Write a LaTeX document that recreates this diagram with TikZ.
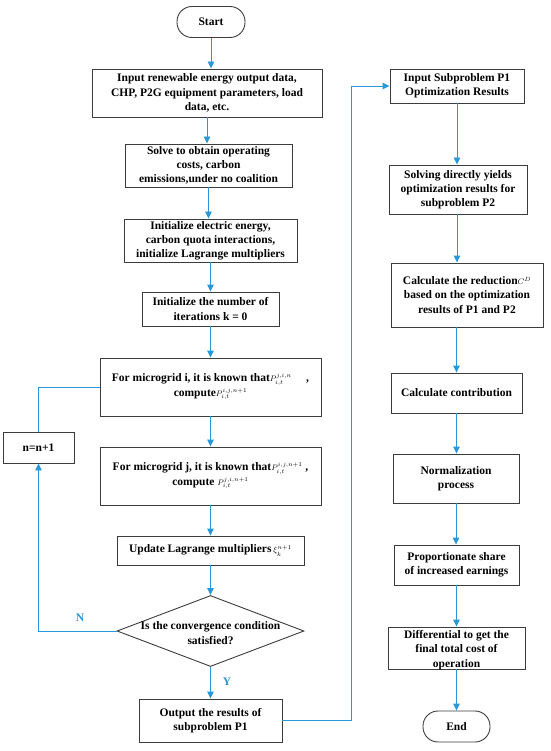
\documentclass[tikz,border=0pt]{standalone}
\usepackage{fontspec}
\setmainfont{Liberation Serif}
\usetikzlibrary{shapes.geometric,arrows.meta,calc}
\definecolor{lineblue}{RGB}{41,152,216}
\definecolor{boxgray}{RGB}{60,60,60}
\newcommand{\sm}[1]{{\fontsize{8}{8}\selectfont\mdseries$#1$}}
\begin{document}
\begin{tikzpicture}[x=1pt,y=-1pt,
  box/.style={draw=boxgray,line width=0.9pt,inner sep=0pt,align=center,
    font=\fontsize{11.5}{14.2}\bfseries\selectfont},
  term/.style={box,rounded corners=15pt},
  arr/.style={draw=lineblue,line width=0.9pt,-{Triangle[length=7pt,width=6.5pt]}},
  ln/.style={draw=lineblue,line width=0.9pt},
  lbl/.style={text=lineblue,font=\fontsize{11.5}{14}\bfseries\selectfont},
  txt/.style={align=center,inner sep=0pt,font=\fontsize{11.5}{14.2}\bfseries\selectfont}]
\fill[white] (0,0) rectangle (550,751);
\useasboundingbox (0,0) rectangle (550,751);
% left column
\node[term,minimum width=68pt,minimum height=31pt] (start) at (211,22) {Start};
\node[box,minimum width=230pt,minimum height=48pt] (input) at (207,93)
  {Input renewable energy output data,\\CHP, P2G equipment parameters, load\\data, etc.};
\node[box,minimum width=167pt,minimum height=43pt] (solve) at (208.5,165.5)
  {Solve to obtain operating\\costs, carbon\\emissions,under no coalition};
\node[box,minimum width=173pt,minimum height=43pt] (initE) at (210.5,240.5)
  {Initialize electric energy,\\carbon quota interactions,\\initialize Lagrange multipliers};
\node[box,minimum width=137pt,minimum height=34pt] (initK) at (210.5,309)
  {Initialize the number of\\iterations k = 0};
\node[box,minimum width=221pt,minimum height=58pt] (boxI) at (210.5,387)
  {For microgrid i, it is known that\sm{P^{j,i,n}_{i,t}}\quad\ ,\\compute\sm{P^{i,j,n+1}_{i,t}}};
\node[box,minimum width=71pt,minimum height=31pt] (nbox) at (38.5,447.5) {n=n+1};
\node[box,minimum width=221pt,minimum height=58pt] (boxJ) at (210.5,476)
  {For microgrid j, it is known that\sm{P^{i,j,n+1}_{i,t}}\ ,\\compute \sm{P^{j,i,n+1}_{i,t}}};
\node[box,minimum width=187pt,minimum height=29pt] (update) at (210.5,550.5)
  {Update Lagrange multipliers\,\sm{\xi^{n+1}_{k}}};
\node[draw=boxgray,line width=0.9pt,diamond,inner sep=0pt,minimum width=187pt,minimum height=71pt] (dec) at (210.5,631) {};
\node[txt] (dectxt) at (210.5,633) {Is the convergence condition\\satisfied?};
\node[box,minimum width=143pt,minimum height=43pt] (output) at (210.5,720.5)
  {Output the results of\\subproblem P1};
% right column
\node[box,minimum width=134pt,minimum height=34pt] (P1in) at (457,86)
  {Input Subproblem P1\\Optimization Results};
\node[box,minimum width=138pt,minimum height=49pt] (solving) at (458,189.5)
  {Solving directly yields\\optimization results for\\subproblem P2};
\node[box,minimum width=152pt,minimum height=64pt] (reduction) at (467,295)
  {Calculate the reduction\sm{C^{D}}\\based on the optimization\\results of P1 and P2};
\node[box,minimum width=131pt,minimum height=40pt] (contrib) at (456.5,393)
  {Calculate contribution};
\node[box,minimum width=126pt,minimum height=49pt] (norm) at (456,478.5)
  {Normalization\\process};
\node[box,minimum width=125pt,minimum height=40pt] (prop) at (456.5,565)
  {Proportionate share\\of increased earnings};
\node[box,minimum width=137pt,minimum height=42pt] (diff) at (456.5,648) {};
\node[txt] (difftxt) at (456.5,650) {Differential to get the\\final total cost of\\operation};
\node[term,minimum width=67pt,minimum height=31pt] (end) at (456.5,726.5) {End};
\coordinate (cr) at (351,0);
% connectors left
\draw[arr] (start.south) -- (start.south |- input.north);
\draw[arr] (input.south) -- (input.south |- solve.north);
\draw[arr] (solve.south) -- (solve.south |- initE.north);
\draw[arr] (initE.south) -- (initE.south |- initK.north);
\draw[arr] (initK.south) -- (initK.south |- boxI.north);
\draw[arr] (boxI.south) -- (boxI.south |- boxJ.north);
\draw[arr] (boxJ.south) -- (boxJ.south |- update.north);
\draw[arr] (update.south) -- (update.south |- dec.north);
\draw[arr] (dec.south) -- (dec.south |- output.north);
\draw[ln] (boxI.west) -| (nbox.north);
\draw[arr] (dec.west) -| (nbox.south);
\draw[arr] (output.east) -| (cr |- P1in.west) -- (P1in.west);
% connectors right
\draw[arr] (P1in.south) -- (P1in.south |- solving.north);
\draw[arr] (P1in.south |- solving.south) -- (P1in.south |- reduction.north);
\draw[arr] (contrib.north |- reduction.south) -- (contrib.north);
\draw[arr] (contrib.south) -- (contrib.south |- norm.north);
\draw[arr] (norm.south) -- (norm.south |- prop.north);
\draw[arr] (prop.south) -- (prop.south |- diff.north);
\draw[arr] (diff.south) -- (diff.south |- end.north);
% labels
\node[lbl] (nlab) at (80,618) {N};
\node[lbl] (ylab) at (227,682) {Y};
\end{tikzpicture}
\end{document}
